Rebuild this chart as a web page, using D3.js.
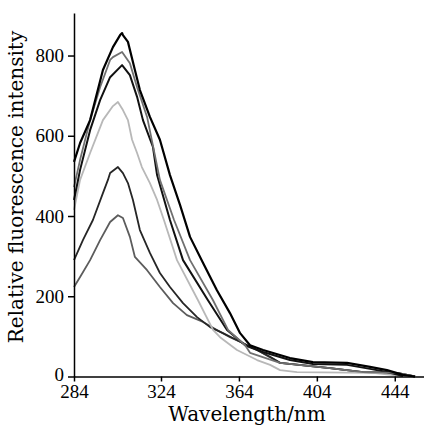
<!DOCTYPE html>
<html>
<head>
<meta charset="utf-8">
<script src="https://cdn.jsdelivr.net/npm/d3@7"></script>
<style>
  body { margin: 0; background: #fff; }
  svg { display: block; }
  text { font-family: "Liberation Serif", "Times New Roman", serif; }
  .title { font-family: "DejaVu Serif", "Liberation Serif", serif; }
</style>
</head>
<body>
<div id="chart"></div>
<script>
// wavelength (nm) / relative intensity pairs
const curve1 = [
  [284, 535], [286.8, 582], [291.4, 639], [297.3, 764], [301.9, 821], [305.2, 851],
  [306.1, 856], [306.5, 851], [308.8, 834], [312, 764], [314.3, 714], [318.9, 647],
  [323.5, 590], [328.6, 502], [333.8, 427], [338.9, 348], [345.6, 283], [352.7, 215],
  [359.4, 158], [364.6, 108], [369.7, 78], [376.4, 66], [390.2, 46], [402, 36],
  [419.5, 34], [431.3, 24], [440, 16], [448.2, 4], [454.4, 0],
]
const curve2 = [
  [284, 472], [286.8, 540], [291.4, 639], [296, 721], [300.6, 789], [301.9, 796],
  [306.1, 809], [309.7, 781], [313, 721], [317.6, 647], [323.5, 490], [330.7, 390],
  [338.9, 290], [350.7, 190], [358.4, 116], [367.2, 78], [369.7, 59], [385.1, 34],
  [410.7, 21], [427.7, 11], [445.1, 9], [454.4, 0],
]
const curve3 = [
  [284, 440], [286.8, 515], [291.4, 614], [296, 689], [300.6, 746], [306.1, 776],
  [309.7, 751], [313, 697], [315.7, 639], [320.3, 572], [322.2, 502], [328.6, 390],
  [335.3, 290], [348.1, 190], [357.9, 116], [367.2, 78], [369.7, 73], [376.4, 61],
  [390.2, 41], [402, 31], [419.5, 29], [431.3, 19], [440, 11], [448.2, 1],
]
const curve4 = [
  [284, 415], [286.8, 490], [291.4, 557], [297.3, 639], [301.9, 674], [304.2, 684],
  [306.5, 664], [308.8, 639], [310.7, 590], [313, 557], [315.2, 522], [318.9, 482],
  [322.2, 440], [325.5, 390], [332.2, 290], [343, 190], [350.7, 116], [354.3, 98],
  [363, 66], [373.3, 41], [380, 29], [385.1, 16], [393.8, 11], [432.8, 9], [448.2, 1],
]
const curve5 = [
  [284, 290], [288.1, 340], [292.7, 390], [297.3, 457], [299.6, 490], [300.6, 507],
  [304.2, 522], [306.5, 507], [308.8, 482], [311.1, 440], [314.3, 365], [318.9, 308],
  [323.5, 258], [328.6, 223], [335.3, 183], [342.5, 148], [349.2, 123], [355.8, 108],
  [366.2, 83], [373.3, 66], [380, 49], [385.1, 34], [410.7, 21], [427.7, 11],
  [445.1, 9], [454.4, 0],
]
const curve6 = [
  [284, 223], [286.8, 248], [291.4, 290], [296, 340], [300.6, 385], [304.2, 402],
  [306.5, 395], [309.7, 348], [312, 298], [317.6, 265], [323.5, 223], [330.2, 183],
  [337.3, 153], [345.6, 136], [352.7, 116], [359.4, 98], [366.2, 83], [373.3, 66],
  [385.1, 34], [410.7, 21], [427.7, 11], [445.1, 9], [454.4, 0],
]

const xTicks = [284, 324, 364, 404, 444]
const yTicks = [0, 200, 400, 600, 800]

const width = 424
const height = 427

const series = [
  { data: curve6, color: "#5c5c5c", w: 1.8 },
  { data: curve5, color: "#262626", w: 1.8 },
  { data: curve4, color: "#b8b8b8", w: 1.8 },
  { data: curve3, color: "#111111", w: 2 },
  { data: curve2, color: "#707070", w: 1.8 },
  { data: curve1, color: "#000000", w: 2.2 },
]

// the printed axis is not evenly spaced below 324 nm
const x = d3.scaleLinear().domain([284, 324, 459]).range([74, 161, 424])
const y = d3.scaleLinear().domain([0, 906]).range([376.5, 13])

const svg = d3
  .select("#chart")
  .append("svg")
  .attr("width", width)
  .attr("height", height)

const line = d3
  .line()
  .x((d) => x(d[0]))
  .y((d) => y(d[1]))

svg
  .append("g")
  .attr("fill", "none")
  .attr("stroke-linejoin", "round")
  .selectAll("path")
  .data(series)
  .join("path")
  .attr("stroke", (d) => d.color)
  .attr("stroke-width", (d) => d.w)
  .attr("d", (d) => line(d.data))

// axes
svg
  .append("g")
  .attr("transform", `translate(0, ${y(0)})`)
  .call(d3.axisBottom(x).tickValues(xTicks).tickSize(5).tickPadding(3).tickSizeOuter(0))
  .call((g) => g.selectAll("path, line").attr("stroke", "#000").attr("stroke-width", 1.5))
  .call((g) => g.selectAll("text").attr("font-size", 19).attr("fill", "#000"))

svg
  .append("g")
  .attr("transform", `translate(${x(284)}, 0)`)
  .call(d3.axisLeft(y).tickValues(yTicks).tickSize(6).tickPadding(4).tickSizeOuter(0))
  .call((g) => g.selectAll("path, line").attr("stroke", "#000").attr("stroke-width", 1.5))
  .call((g) => g.selectAll("text").attr("font-size", 19).attr("fill", "#000"))
  .call((g) => g.select(".tick:first-of-type text").attr("dy", "0.2em"))

svg
  .append("text")
  .attr("class", "title")
  .attr("x", 247)
  .attr("y", 421)
  .attr("text-anchor", "middle")
  .attr("font-size", 20)
  .text("Wavelength/nm")

svg
  .append("text")
  .attr("class", "title")
  .attr("transform", `translate(23, 187) rotate(-90)`)
  .attr("text-anchor", "middle")
  .attr("font-size", 20)
  .text("Relative fluorescence intensity")
</script>
</body>
</html>
